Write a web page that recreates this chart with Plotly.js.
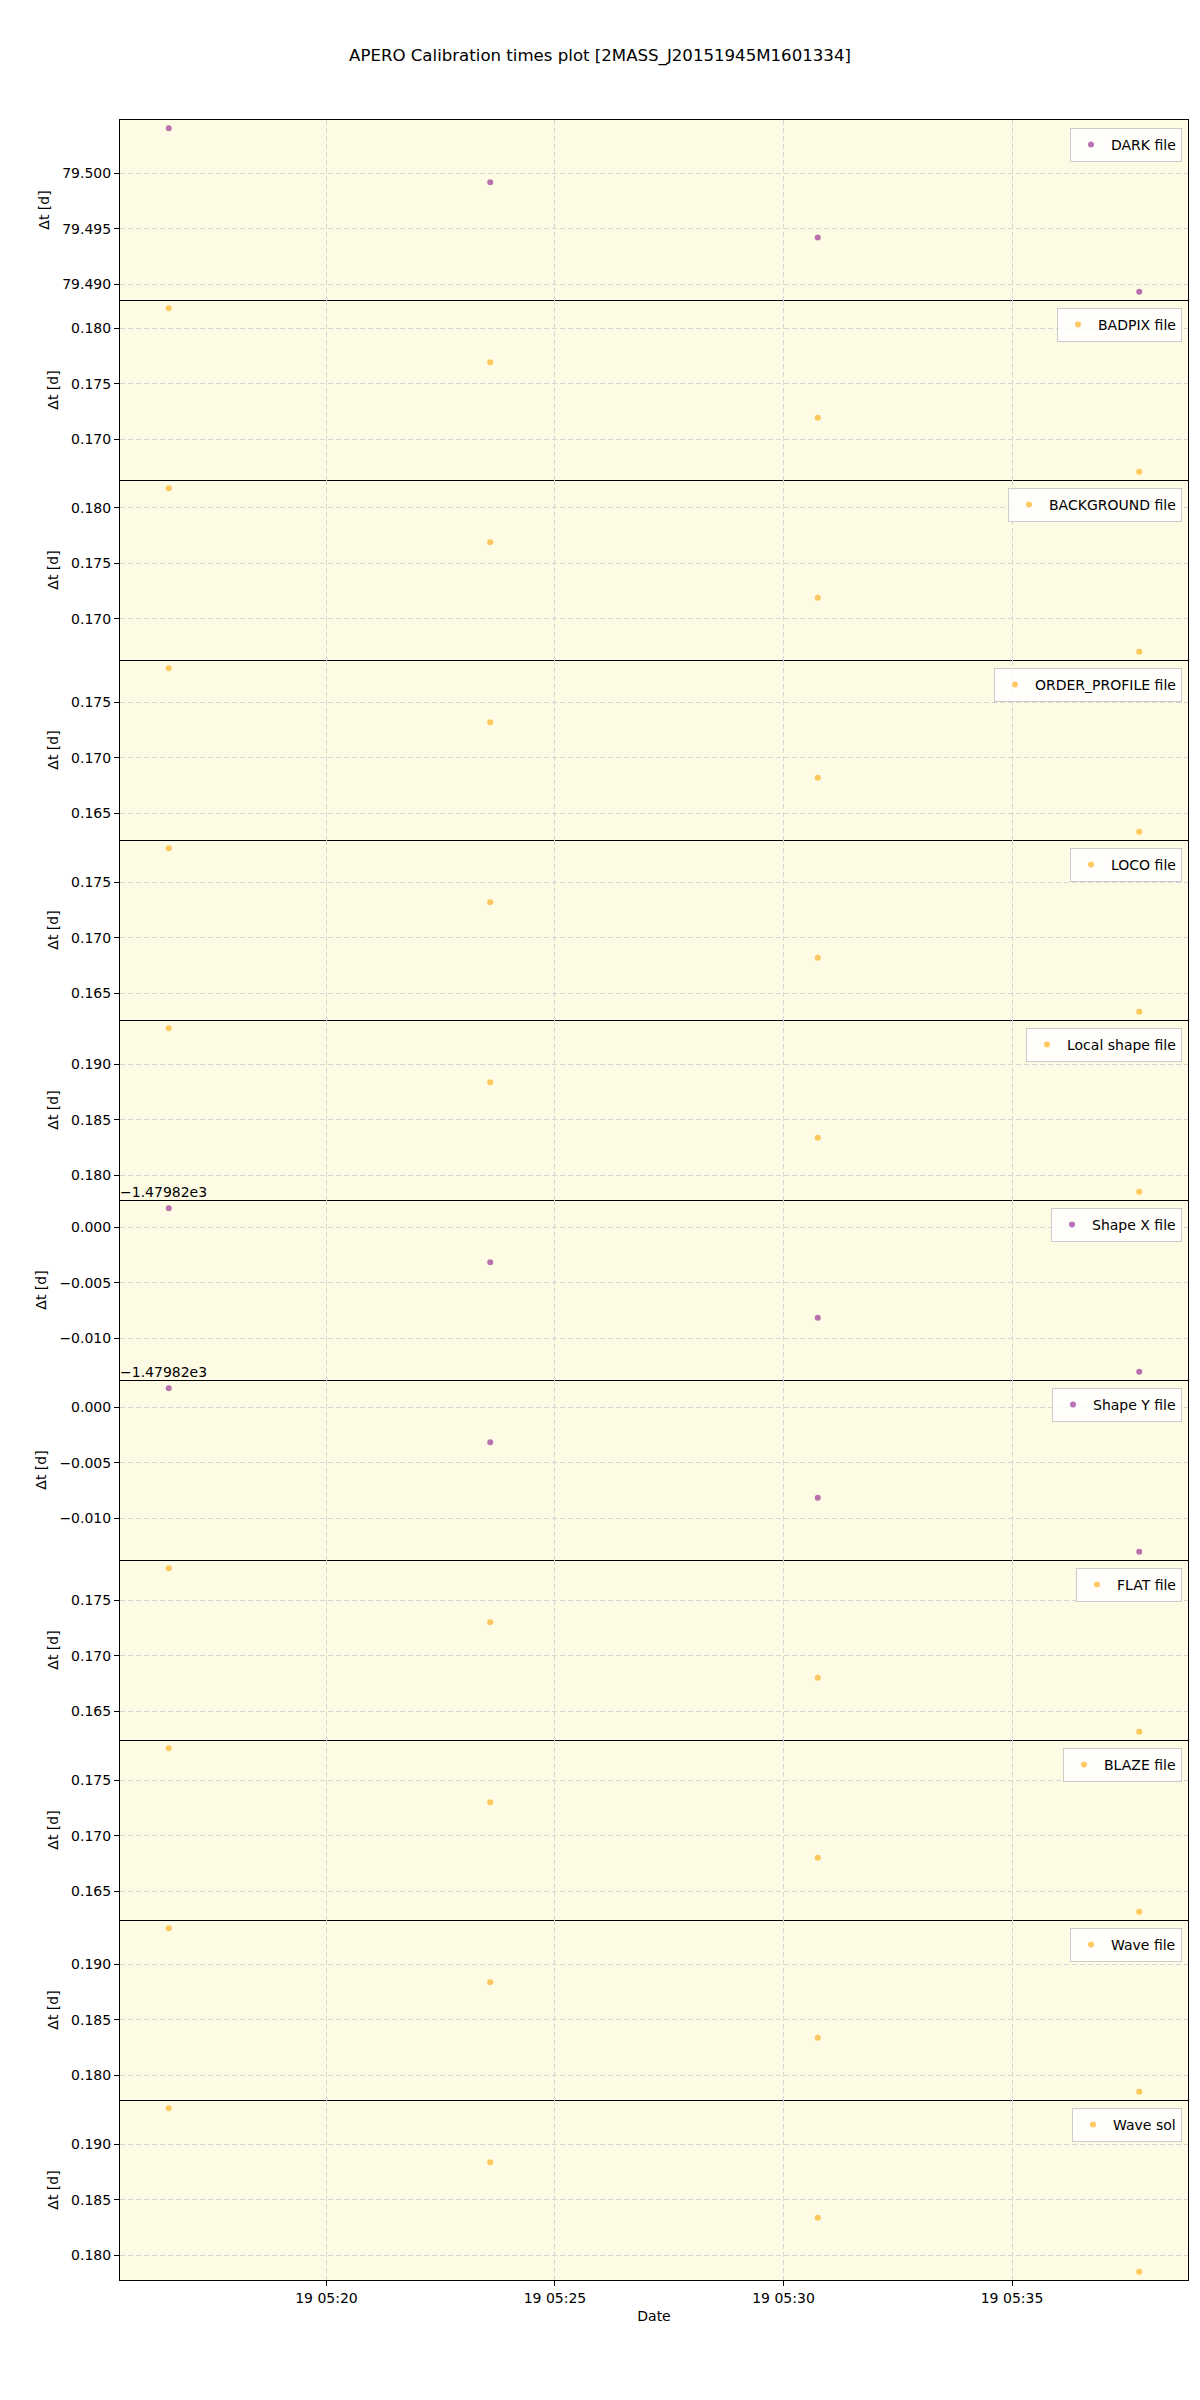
<!DOCTYPE html>
<html><head><meta charset="utf-8">
<script src="https://cdn.plot.ly/plotly-3.0.1.min.js"></script>
<style>body{margin:0;background:#fff}</style>
</head><body><div id="chart" style="width:1200px;height:2400px"></div>
<script>
// ---- data ----
const obsTimes = ['2021-09-19 05:16:33','2021-09-19 05:23:35','2021-09-19 05:30:45','2021-09-19 05:37:47'];
const panelNames = ['DARK file','BADPIX file','BACKGROUND file','ORDER_PROFILE file','LOCO file','Local shape file','Shape X file','Shape Y file','FLAT file','BLAZE file','Wave file','Wave sol'];
const darkDt       = [79.50407, 79.49919, 79.49421, 79.48932];
const badpixDt     = [0.18180, 0.17692, 0.17194, 0.16706];
const backgroundDt = [0.18178, 0.17690, 0.17192, 0.16704];
const orderProfDt  = [0.17806, 0.17318, 0.16820, 0.16332];
const locoDt       = [0.17806, 0.17318, 0.16820, 0.16332];
const localShapeDt = [0.19324, 0.18836, 0.18338, 0.17850];
const shapeXDt     = [-1479.81829, -1479.82317, -1479.82815, -1479.83303];
const shapeYDt     = [-1479.81829, -1479.82317, -1479.82815, -1479.83303];
const flatDt       = [0.17788, 0.17300, 0.16802, 0.16314];
const blazeDt      = [0.17788, 0.17300, 0.16802, 0.16314];
const waveFileDt   = [0.19324, 0.18836, 0.18338, 0.17850];
const waveSolDt    = [0.19324, 0.18836, 0.18338, 0.17850];
const panelColors  = ['purple','orange','orange','orange','orange','orange','purple','purple','orange','orange','orange','orange'];
const shapeOffset  = -1479.82;
const shapeOffsetLabel = '\u22121.47982e3';
const shapeTickDeltas = [0, -0.005, -0.010];
const shapeTickText = ['0.000','\u22120.005','\u22120.010'];
const xRange = ['2021-09-19 05:15:29','2021-09-19 05:38:51'];
const xTick0 = '2021-09-19 05:20:00';

const allDt = [darkDt,badpixDt,backgroundDt,orderProfDt,locoDt,localShapeDt,shapeXDt,shapeYDt,flatDt,blazeDt,waveFileDt,waveSolDt];

// ---- build ----
const N = 12;
const FONT = 'DejaVu Sans, sans-serif';
const colorMap = {purple:'rgba(128,0,128,0.55)', orange:'rgba(255,165,0,0.6)'};
const traces = [];
const layout = {
  width:1200, height:2400,
  margin:{l:120, r:12, t:120, b:120},
  paper_bgcolor:'#ffffff', plot_bgcolor:'#fdfbe3',
  font:{family:FONT, size:14, color:'#000'},
  title:{text:'APERO Calibration times plot [2MASS_J20151945M1601334]', xref:'container', x:0.5, xanchor:'center', yref:'container', y:1-55/2400, yanchor:'middle', font:{family:FONT, size:16.6, color:'#000'}},
  showlegend:true,
  annotations:[]
};
const plotH = 2160, plotW = 1068;
for (let i=0;i<N;i++){
  const s = i===0 ? '' : String(i+1);
  const vals = allDt[i];
  const mn = Math.min(...vals), mx = Math.max(...vals), sp = mx-mn;
  const top = 1 - i/N, bot = 1 - (i+1)/N;
  const legName = i===0 ? 'legend' : 'legend'+(i+1);
  traces.push({
    type:'scatter', mode:'markers', x:obsTimes, y:vals, name:panelNames[i],
    xaxis:'x'+s, yaxis:'y'+s, legend:legName,
    marker:{color:colorMap[panelColors[i]], size:6}
  });
  const isLast = i===N-1;
  layout['xaxis'+s] = {
    type:'date', domain:[0,1], anchor:'y'+s, range:xRange,
    tick0:xTick0, dtick:300000, tickformat:'%d %H:%M',
    showticklabels:isLast, ticks:isLast?'outside':'', ticklen:5, tickcolor:'#000',
    showgrid:true, gridcolor:'#d6d6d6', griddash:'5px,3px', gridwidth:1,
    showline:true, mirror:(i===0), linecolor:'#000', linewidth:1, zeroline:false,
    tickfont:{family:FONT, size:14},
    title: isLast ? {text:'Date', font:{family:FONT,size:14}, standoff:6} : {text:''}
  };
  const ya = {
    domain:[bot, top], anchor:'x'+s,
    range:[mn-0.05*sp, mx+0.05*sp],
    ticks:'outside', ticklen:5, tickcolor:'#000',
    showgrid:true, gridcolor:'#d6d6d6', griddash:'5px,3px', gridwidth:1,
    showline:true, mirror:true, linecolor:'#000', linewidth:1, zeroline:false,
    tickfont:{family:FONT, size:14},
    title:{text:'\u0394t [d]', font:{family:FONT,size:14}, standoff:9}
  };
  if (i===6 || i===7){
    ya.tickmode='array';
    ya.tickvals = shapeTickDeltas.map(d=>shapeOffset+d);
    ya.ticktext = shapeTickText;
    layout.annotations.push({xref:'paper', yref:'paper', x:0, y:top, xanchor:'left', yanchor:'bottom',
      text:shapeOffsetLabel, showarrow:false, font:{family:FONT,size:14,color:'#000'}, xshift:-2, yshift:-2});
  } else {
    ya.tick0 = 0; ya.dtick = 0.005; ya.tickformat = '.3f';
  }
  layout['yaxis'+s] = ya;
  layout[legName] = {
    x:1-6/plotW, xanchor:'right', y:top-8/plotH, yanchor:'top',
    bgcolor:'rgba(255,255,255,0.8)', bordercolor:'#cccccc', borderwidth:1,
    font:{family:FONT,size:14}
  };
}
Plotly.newPlot('chart', traces, layout, {displayModeBar:false, staticPlot:true});
</script>
</body></html>
